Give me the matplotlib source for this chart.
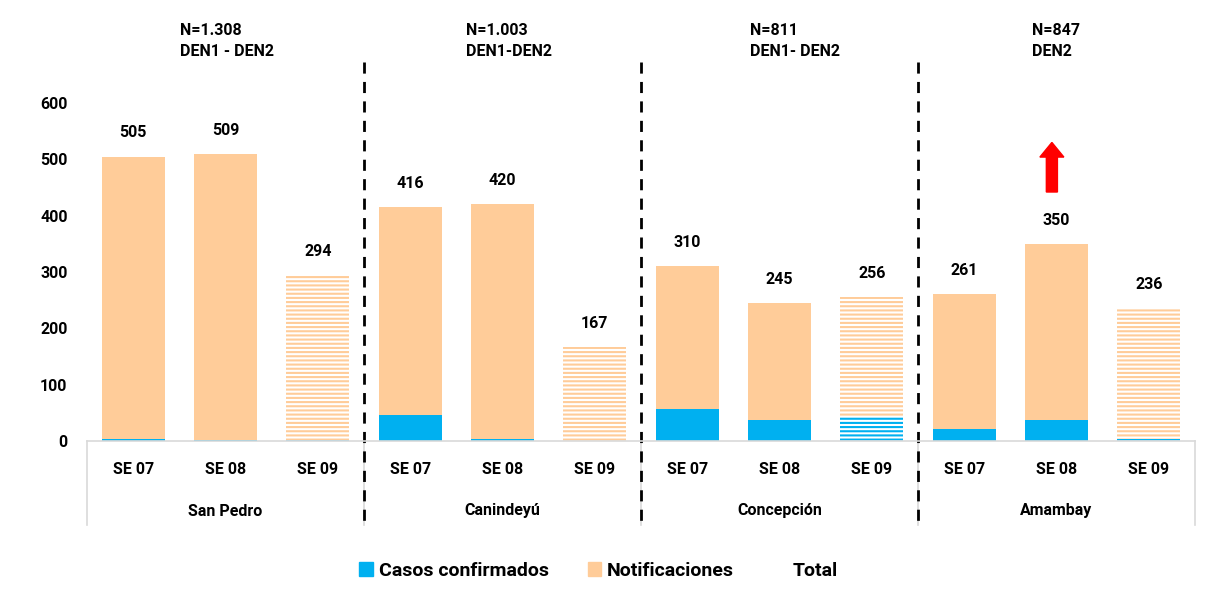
import numpy as np
import matplotlib.pyplot as plt
from matplotlib.patches import Patch
from matplotlib.lines import Line2D
import matplotlib.transforms as mtransforms

plt.rcParams['font.family'] = ['Roboto', 'DejaVu Sans']
plt.rcParams['font.weight'] = 'bold'
plt.rcParams['hatch.linewidth'] = 1.5

# data
semanas = ["SE 07", "SE 08", "SE 09"] * 4
departamentos = ["San Pedro", "Canindeyú", "Concepción", "Amambay"]
confirmados = [4, 1, 1, 47, 3, 0, 57, 37, 45, 22, 37, 3]
total = [505, 509, 294, 416, 420, 167, 310, 245, 256, 261, 350, 236]
notas_top = ["N=1.308\nDEN1 - DEN2", "N=1.003\nDEN1-DEN2",
             "N=811\nDEN1- DEN2", "N=847\nDEN2"]

azul = "#00B0F0"
naranja = "#FFCC99"
peso = "bold"
fs = 11.5

fig = plt.figure(figsize=(12.29, 5.9), dpi=100)
ax = fig.add_axes([87 / 1229, 1 - 441 / 590, (1195 - 87) / 1229, (441 - 103) / 590])

x = np.arange(len(total))
conf = np.array(confirmados)
notif = np.array(total) - conf
w = 0.68

for i in x:
    rayado = (i % 3 == 2)
    if rayado:
        ax.bar(i, conf[i], w, color="white", edgecolor=azul, hatch="----", linewidth=0)
        ax.bar(i, notif[i], w, bottom=conf[i], color="white", edgecolor=naranja,
               hatch="----", linewidth=0)
    else:
        ax.bar(i, conf[i], w, color=azul, linewidth=0)
        ax.bar(i, notif[i], w, bottom=conf[i], color=naranja, linewidth=0)
    ax.annotate(str(total[i]), (i, total[i]), xytext=(0, 17), textcoords="offset points",
                ha="center", va="center", fontsize=fs, fontweight=peso)

ax.set_xlim(-0.5, len(total) - 0.5)
ax.set_ylim(0, 600)
ax.set_yticks(range(0, 601, 100))
ax.tick_params(axis="y", length=0, labelsize=fs, pad=14)
for lab in ax.get_yticklabels():
    lab.set_fontweight(peso)
ax.set_xticks([])
for s in ["top", "right", "left"]:
    ax.spines[s].set_visible(False)
ax.spines["bottom"].set_color("#D9D9D9")
ax.spines["bottom"].set_linewidth(1.2)

trans = mtransforms.blended_transform_factory(ax.transData, fig.transFigure)
for i in x:
    ax.text(i, 1 - 470 / 590, semanas[i], transform=trans, ha="center", va="center",
            fontsize=fs, fontweight=peso)
for g, dep in enumerate(departamentos):
    ax.text(3 * g + 1, 1 - 511 / 590, dep, transform=trans, ha="center", va="center",
            fontsize=fs, fontweight=peso)

# group box lines
for b in [-0.5, 2.5, 5.5, 8.5, 11.5]:
    ax.add_line(Line2D([b, b], [1 - 441 / 590, 1 - 525 / 590], transform=trans,
                       color="#D9D9D9", lw=1.2, clip_on=False))
for b in [2.5, 5.5, 8.5]:
    ax.add_line(Line2D([b, b], [1 - 62 / 590, 1 - 525 / 590], transform=trans,
                       color="black", lw=2, ls=(0, (4, 3)), clip_on=False))

for g, nota in enumerate(notas_top):
    ax.text([0.51, 3.6, 6.68, 9.73][g], 1 - 41 / 590, nota, transform=trans,
            ha="left", va="center", fontsize=fs, fontweight=peso, linespacing=1.5)

ax.arrow(9.95, 442, 0, 62, width=0.12, head_width=0.26, head_length=26,
         color="red", length_includes_head=False, clip_on=False)

handles = [Patch(color=azul), Patch(color=naranja), Line2D([], [], color="none")]
fig.legend(handles, ["Casos confirmados", "Notificaciones", "Total"],
           loc="lower center", bbox_to_anchor=(0.487, -0.012), ncol=3, frameon=False,
           handlelength=0.7, handleheight=0.7, handletextpad=0.3, columnspacing=2.0,
           prop={"size": 14, "weight": peso})

plt.savefig("out.png", dpi=100)
